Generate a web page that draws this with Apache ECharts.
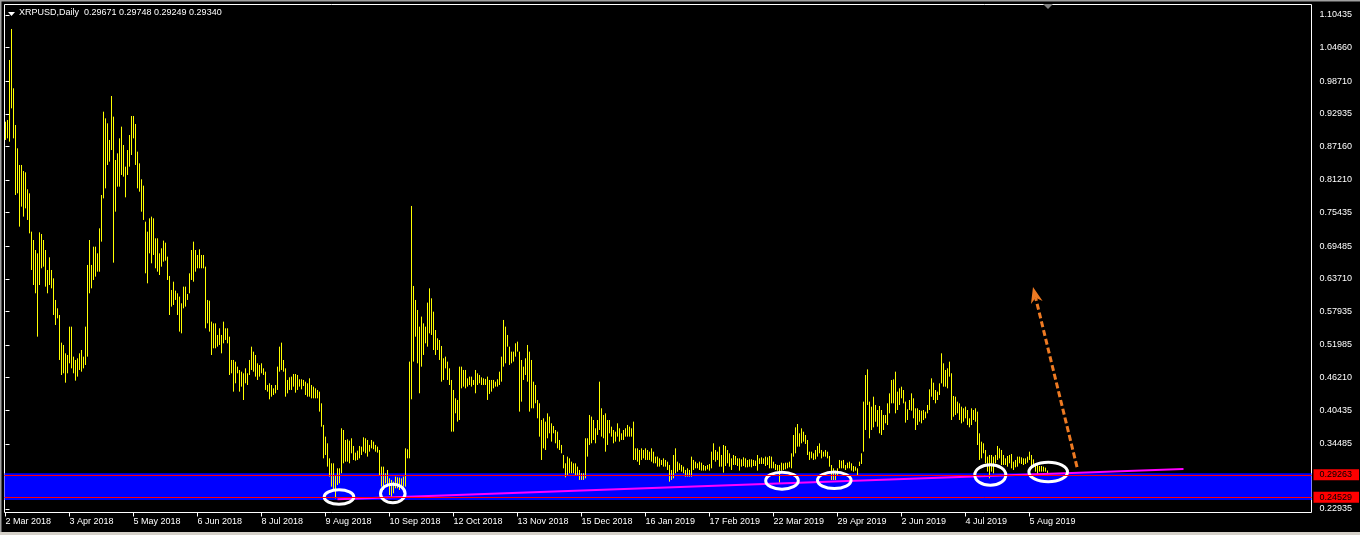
<!DOCTYPE html>
<html><head><meta charset="utf-8">
<script src="https://cdn.jsdelivr.net/npm/echarts@6/dist/echarts.min.js"></script>
<style>html,body{margin:0;padding:0;background:#000;overflow:hidden}#c{width:1360px;height:535px}</style>
</head><body><div id="c"></div>
<script>
const titleText = 'XRPUSD,Daily  0.29671 0.29748 0.29249 0.29340';
const dateTickIndex = [0,32,64,96,128,160,192,224,256,288,320,352,384,416,448,480,512];
const dateLabels = ['2 Mar 2018','3 Apr 2018','5 May 2018','6 Jun 2018','8 Jul 2018','9 Aug 2018','10 Sep 2018','12 Oct 2018','13 Nov 2018','15 Dec 2018','16 Jan 2019','17 Feb 2019','22 Mar 2019','29 Apr 2019','2 Jun 2019','4 Jul 2019','5 Aug 2019'];
const priceTicks = [1.10435,1.04660,0.98710,0.92935,0.87160,0.81210,0.75435,0.69485,0.63710,0.57935,0.51985,0.46210,0.40435,0.34485,0.28710,0.22935];

const highs = [
0.9154,0.9184,1.0247,1.0796,0.9745,0.9095,0.8682,0.8387,0.8387,0.8280,
0.8257,0.7956,0.7885,0.7206,0.7058,0.6881,0.6822,0.7194,0.7165,0.7058,
0.6881,0.6527,0.6751,0.6527,0.6379,0.5996,0.5848,0.5730,0.5240,0.5199,
0.5051,0.5021,0.5523,0.5523,0.4992,0.4933,0.4962,0.5051,0.5110,0.4992,
0.5523,0.6616,0.7058,0.6616,0.6940,0.6940,0.6822,0.7265,0.7855,0.9331,
0.9213,0.9125,0.8830,0.9609,0.9243,0.8475,0.8593,0.8859,0.9066,0.8741,
0.8357,0.8652,0.8918,0.9255,0.9255,0.9113,0.8623,0.8416,0.8133,0.8021,
0.7383,0.7206,0.7442,0.7472,0.7442,0.7088,0.7088,0.6822,0.6911,0.7047,
0.7011,0.6763,0.6421,0.6173,0.6320,0.6161,0.6114,0.6055,0.5937,0.6232,
0.6232,0.6102,0.6468,0.6881,0.7029,0.6881,0.6793,0.6893,0.6793,0.6793,
0.6586,0.5996,0.5984,0.5612,0.5582,0.5582,0.5376,0.5494,0.5376,0.5612,
0.5494,0.5494,0.5346,0.4933,0.4933,0.4903,0.4815,0.4756,0.4726,0.4697,
0.4785,0.4697,0.4933,0.5169,0.5081,0.5021,0.4874,0.4844,0.4874,0.4785,
0.4726,0.4490,0.4520,0.4490,0.4431,0.4490,0.4815,0.5169,0.5240,0.4933,
0.4785,0.4579,0.4626,0.4638,0.4685,0.4685,0.4667,0.4591,0.4591,0.4579,
0.4549,0.4520,0.4608,0.4490,0.4461,0.4431,0.4402,0.4372,0.4165,0.3782,
0.3575,0.3457,0.3191,0.3103,0.3103,0.2896,0.3014,0.3014,0.3723,0.3693,
0.3516,0.3528,0.3504,0.3546,0.3410,0.3292,0.3327,0.3410,0.3398,0.3563,
0.3546,0.3516,0.3428,0.3516,0.3487,0.3428,0.3398,0.3339,0.3044,0.3044,
0.2926,0.2985,0.2837,0.2808,0.2778,0.2867,0.2855,0.2849,0.2837,0.2867,
0.3368,0.3351,0.4904,0.7661,0.6244,0.5996,0.5819,0.5523,0.5701,0.5582,
0.5523,0.5949,0.6202,0.6025,0.5789,0.5464,0.5317,0.5287,0.5181,0.4963,
0.4992,0.4904,0.4785,0.4579,0.4402,0.4254,0.4225,0.4815,0.4815,0.4756,
0.4756,0.4608,0.4638,0.4638,0.4579,0.4756,0.4697,0.4667,0.4626,0.4608,
0.4597,0.4638,0.4579,0.4579,0.4579,0.4549,0.4591,0.4726,0.4992,0.5642,
0.5523,0.5376,0.5169,0.5081,0.5081,0.5228,0.5258,0.5081,0.4933,0.4815,
0.4963,0.5199,0.5081,0.4933,0.4549,0.4490,0.4225,0.4166,0.3870,0.3900,
0.3841,0.3988,0.3930,0.3811,0.3764,0.3693,0.3664,0.3516,0.3428,0.3250,
0.3103,0.3221,0.3191,0.3132,0.3103,0.3103,0.3044,0.2985,0.2926,0.2926,
0.3546,0.3546,0.3959,0.3930,0.3870,0.3723,0.3870,0.4549,0.4077,0.3959,
0.3988,0.3870,0.3870,0.3752,0.3693,0.3664,0.3811,0.3723,0.3634,0.3693,
0.3723,0.3782,0.3752,0.3723,0.3841,0.3368,0.3368,0.3339,0.3368,0.3339,
0.3368,0.3339,0.3309,0.3368,0.3309,0.3221,0.3221,0.3191,0.3162,0.3191,
0.3162,0.3132,0.3073,0.2985,0.3250,0.3368,0.3132,0.3103,0.3073,0.3044,
0.2985,0.3014,0.2985,0.3221,0.3162,0.3132,0.3103,0.3132,0.3114,0.3073,
0.3055,0.3073,0.3091,0.3309,0.3457,0.3339,0.3309,0.3398,0.3250,0.3427,
0.3410,0.3339,0.3280,0.3191,0.3250,0.3232,0.3191,0.3191,0.3173,0.3209,
0.3191,0.3162,0.3173,0.3173,0.3162,0.3150,0.3250,0.3191,0.3209,0.3191,
0.3221,0.3209,0.3232,0.3221,0.3132,0.3091,0.3073,0.3073,0.3114,0.3103,
0.3114,0.3114,0.3132,0.3280,0.3604,0.3740,0.3799,0.3634,0.3722,0.3663,
0.3604,0.3516,0.3309,0.3309,0.3280,0.3339,0.3410,0.3457,0.3339,0.3309,
0.3339,0.3309,0.3232,0.3073,0.3014,0.2973,0.3014,0.3162,0.3150,0.3162,
0.3073,0.3114,0.3132,0.3103,0.3055,0.3043,0.3014,0.3132,0.3280,0.4195,
0.4667,0.4767,0.4195,0.4106,0.4283,0.4136,0.4047,0.4118,0.4047,0.3959,
0.3959,0.4165,0.4342,0.4578,0.4590,0.4726,0.4372,0.4431,0.4460,0.4401,
0.4195,0.4059,0.4224,0.4342,0.4254,0.4077,0.4077,0.4047,0.4035,0.4047,
0.4018,0.4136,0.4413,0.4608,0.4531,0.4401,0.4372,0.4519,0.5051,0.4874,
0.4756,0.4785,0.4903,0.4697,0.4295,0.4283,0.4195,0.4165,0.4106,0.4077,
0.4106,0.4047,0.3900,0.4077,0.4047,0.4077,0.4018,0.3634,0.3486,0.3457,
0.3339,0.3221,0.3250,0.3250,0.3221,0.3250,0.3410,0.3368,0.3339,0.3250,
0.3191,0.3232,0.3250,0.3268,0.3132,0.3162,0.3221,0.3221,0.3209,0.3191,
0.3191,0.3221,0.3309,0.3250,0.3173,0.3103,0.3073,0.3055,0.3055,0.3043,
0.3026,0.2975];

const lows = [
0.8830,0.8859,0.8800,0.9390,0.8859,0.7855,0.7885,0.7295,0.7649,0.7472,
0.7619,0.7413,0.7176,0.6527,0.6261,0.6114,0.5346,0.6261,0.6557,0.6586,
0.6232,0.6114,0.6261,0.6202,0.5730,0.5553,0.5671,0.4933,0.4667,0.4697,
0.4531,0.4697,0.4874,0.4785,0.4697,0.4567,0.4638,0.4756,0.4726,0.4785,
0.4844,0.4992,0.6114,0.6202,0.6350,0.6409,0.6497,0.6497,0.7029,0.7796,
0.7973,0.8387,0.8446,0.8652,0.6657,0.7560,0.8003,0.8003,0.8210,0.8180,
0.7814,0.8210,0.8357,0.8564,0.8859,0.8387,0.7973,0.7914,0.7560,0.7413,
0.6468,0.6291,0.6822,0.6645,0.6793,0.6557,0.6497,0.6438,0.6586,0.6675,
0.6692,0.6350,0.5730,0.5878,0.5907,0.5996,0.5730,0.5435,0.5405,0.5848,
0.5878,0.5996,0.6114,0.6350,0.6320,0.6497,0.6557,0.6557,0.6557,0.6557,
0.5494,0.5582,0.5435,0.5021,0.5140,0.5140,0.5169,0.5199,0.5051,0.5228,
0.5287,0.5228,0.4667,0.4697,0.4372,0.4520,0.4697,0.4372,0.4461,0.4224,
0.4520,0.4490,0.4667,0.4756,0.4726,0.4638,0.4579,0.4638,0.4697,0.4667,
0.4402,0.4372,0.4236,0.4283,0.4313,0.4342,0.4402,0.4726,0.4756,0.4726,
0.4283,0.4342,0.4402,0.4402,0.4461,0.4354,0.4402,0.4461,0.4413,0.4472,
0.4313,0.4283,0.4283,0.4254,0.4254,0.4254,0.4254,0.4018,0.3752,0.3191,
0.3250,0.3044,0.2867,0.2689,0.2630,0.2483,0.2719,0.2749,0.2926,0.3103,
0.3132,0.3132,0.3103,0.3280,0.3162,0.3150,0.3162,0.3191,0.3250,0.3309,
0.3280,0.3221,0.3309,0.3368,0.3351,0.3309,0.3292,0.2896,0.2689,0.2630,
0.2748,0.2689,0.2542,0.2512,0.2571,0.2660,0.2660,0.2630,0.2660,0.2689,
0.2689,0.3191,0.3191,0.4236,0.4904,0.5346,0.4874,0.4343,0.4815,0.5022,
0.5228,0.5169,0.5405,0.5376,0.5110,0.5022,0.5110,0.4933,0.4549,0.4579,
0.4785,0.4579,0.4490,0.3664,0.3664,0.3988,0.3841,0.3870,0.4431,0.4461,
0.4431,0.4461,0.4490,0.4461,0.4490,0.4343,0.4490,0.4520,0.4490,0.4490,
0.4490,0.4225,0.4331,0.4372,0.4431,0.4461,0.4461,0.4490,0.4549,0.4815,
0.4874,0.5169,0.4845,0.4874,0.4904,0.4992,0.5081,0.4018,0.4195,0.4579,
0.4667,0.4549,0.4018,0.4077,0.4077,0.4166,0.3900,0.3575,0.3162,0.3368,
0.3339,0.3546,0.3634,0.3487,0.3634,0.3457,0.3368,0.3339,0.3280,0.3014,
0.2855,0.2896,0.2926,0.2926,0.2926,0.2896,0.2896,0.2808,0.2808,0.2808,
0.2837,0.3221,0.3428,0.3457,0.3516,0.3457,0.3605,0.3693,0.3575,0.3546,
0.3309,0.3428,0.3634,0.3575,0.3457,0.3487,0.3575,0.3487,0.3516,0.3516,
0.3575,0.3575,0.3575,0.3575,0.3162,0.3162,0.3132,0.3073,0.3162,0.3191,
0.3162,0.3162,0.3162,0.3132,0.3103,0.3103,0.3044,0.3044,0.3073,0.3044,
0.3044,0.2985,0.2778,0.2808,0.2837,0.2926,0.2955,0.2985,0.2955,0.2926,
0.2867,0.2867,0.2867,0.2867,0.2985,0.3014,0.3014,0.2985,0.2973,0.2973,
0.2973,0.2996,0.2973,0.3014,0.3162,0.3132,0.3162,0.3043,0.3043,0.2937,
0.3055,0.3103,0.3043,0.2985,0.3073,0.3073,0.3055,0.2973,0.3043,0.3055,
0.3032,0.3032,0.3043,0.3032,0.3055,0.3055,0.2973,0.3091,0.3091,0.3091,
0.3055,0.3073,0.3014,0.3014,0.3014,0.2985,0.2973,0.2760,0.2973,0.2985,
0.2996,0.3014,0.3032,0.3014,0.3221,0.3280,0.3398,0.3398,0.3457,0.3486,
0.3445,0.3250,0.3162,0.3191,0.3162,0.3173,0.3221,0.3280,0.3191,0.3221,
0.3221,0.3191,0.3043,0.2807,0.2807,0.2807,0.2896,0.3014,0.3014,0.3014,
0.2985,0.3014,0.3014,0.2973,0.2955,0.2973,0.2896,0.3055,0.3091,0.3309,
0.3693,0.4136,0.3545,0.3693,0.3740,0.3840,0.3752,0.3634,0.3604,0.3693,
0.3811,0.3781,0.3988,0.4165,0.4165,0.3988,0.4047,0.4136,0.4254,0.4165,
0.3823,0.3870,0.4047,0.4035,0.3900,0.3693,0.3781,0.3840,0.3811,0.3870,
0.3900,0.3988,0.4047,0.4283,0.4224,0.4165,0.4224,0.4313,0.4519,0.4460,
0.4460,0.4431,0.4638,0.3870,0.3929,0.3959,0.3988,0.3870,0.3811,0.3840,
0.3900,0.3781,0.3740,0.3781,0.3870,0.3840,0.3427,0.3162,0.3191,0.3280,
0.3103,0.2955,0.2837,0.2955,0.2925,0.3103,0.3162,0.3191,0.3073,0.3073,
0.3073,0.3043,0.3103,0.3014,0.2985,0.3032,0.3043,0.3103,0.3091,0.3073,
0.3091,0.3114,0.3162,0.3043,0.3032,0.2955,0.2896,0.2955,0.2955,0.2955,
0.2955,0.2925];

// horizontal levels
const zoneTop = 0.29263;
const zoneBottom = 0.24529;
const bidLevel = 0.2940;
// trend line (bar index, price)
const trendLine = [[166, 0.2465], [589, 0.3002]];
// ellipse annotations centres (bar index, price)
const ellipseCenters = [[166.75,0.2506],[193.65,0.2568],[388.25,0.2795],[414.4,0.2802],[492.4,0.2896],[521.35,0.2949]];
// arrow annotation (from bar, from price, to bar, to price)
const arrowSeg = [[535.75, 0.3037, 513.75, 0.6226]];
</script>
<script>
const ellipseRadii = [[14.8,7.2],[12.3,9.3],[16.3,8.5],[16.8,8.2],[15.5,10.2],[19.3,9.8]];
const FONT = 'Liberation Sans';
const chart = echarts.init(document.getElementById('c'), null, {renderer:'canvas'});
const barData = highs.map((h, i) => [i, h, lows[i]]);

chart.setOption({
  backgroundColor: '#000000',
  animation: false,
  title: {
    text: titleText, left: 19, top: 8, padding: 0,
    textStyle: {color:'#ffffff', fontSize:9, fontWeight:'normal', fontFamily: FONT}
  },
  grid: {left:4.5, right:48.5, top:4.5, bottom:22.5, show:true, borderColor:'#ffffff', borderWidth:1, backgroundColor:'#000000'},
  xAxis: {
    type:'value', min:-0.5, max:653,
    axisLine:{show:false}, splitLine:{show:false},
    axisTick:{show:true, customValues: dateTickIndex, length:4, lineStyle:{color:'#ffffff'}},
    axisLabel:{show:true, customValues: dateTickIndex, align:'left', margin:5,
      formatter: v => dateLabels[dateTickIndex.indexOf(v)] || '',
      color:'#ffffff', fontSize:9, fontFamily: FONT}
  },
  yAxis: {
    type:'value', position:'right', min:0.22315, max:1.12295, scale:true,
    axisLine:{show:false}, splitLine:{show:false},
    axisTick:{show:true, customValues: priceTicks, length:4, lineStyle:{color:'#ffffff'}},
    axisLabel:{show:true, customValues: priceTicks, margin:8,
      formatter: v => v.toFixed(5),
      color:'#ffffff', fontSize:9, fontFamily: FONT}
  },
  series: [
    {
      type:'custom', name:'bars', z:2, clip:true,
      data: barData,
      encode:{x:0, y:[1,2]},
      renderItem(params, api) {
        const x = api.value(0);
        const p1 = api.coord([x, api.value(1)]);
        const p2 = api.coord([x, api.value(2)]);
        return {type:'line', shape:{x1:p1[0], y1:p1[1], x2:p2[0], y2:p2[1]},
          style:{stroke:'#ffff00', lineWidth:1}};
      }
    },
    {
      type:'line', name:'trend', z:3, data: trendLine, symbol:'none', silent:true,
      lineStyle:{color:'#ff00ff', width:2},
      markArea:{silent:true, itemStyle:{color:'#0000ff'}, label:{show:false},
        data:[[{yAxis: zoneTop}, {yAxis: zoneBottom}]]},
      markLine:{silent:true, symbol:['none','none'], animation:false,
        data:[
          {yAxis: bidLevel, lineStyle:{color:'#778899', width:1, type:'solid'}, label:{show:false}},
          {yAxis: zoneTop, lineStyle:{color:'#ff0000', width:1, type:'solid'},
            label:{show:true, position:'end', distance:2, formatter: zoneTop.toFixed(5), color:'#000000', backgroundColor:'#ff0000', padding:[1,7,1,6], fontSize:9, fontFamily:FONT}},
          {yAxis: zoneBottom, lineStyle:{color:'#ff0000', width:1, type:'solid'},
            label:{show:true, position:'end', distance:2, formatter: zoneBottom.toFixed(5), color:'#000000', backgroundColor:'#ff0000', padding:[1,7,1,6], fontSize:9, fontFamily:FONT}}
        ]}
    },
    {
      type:'custom', name:'ellipses', z:4, clip:false,
      data: ellipseCenters,
      renderItem(params, api) {
        const c = api.coord([api.value(0), api.value(1)]);
        const r = ellipseRadii[params.dataIndex];
        return {type:'ellipse', shape:{cx:c[0], cy:c[1], rx:r[0], ry:r[1]},
          style:{fill:null, stroke:'#ffffff', lineWidth:3}};
      }
    },
    {
      type:'custom', name:'arrow', z:4, clip:false,
      data: arrowSeg,
      renderItem(params, api) {
        const a = api.coord([api.value(0), api.value(1)]);
        const b = api.coord([api.value(2), api.value(3)]);
        const dx = b[0]-a[0], dy = b[1]-a[1];
        const len = Math.sqrt(dx*dx+dy*dy);
        const ux = dx/len, uy = dy/len, nx = -uy, ny = ux;
        const L = 16, W = 6;
        const base = [b[0]-ux*L, b[1]-uy*L];
        const notch = [b[0]-ux*L*0.7, b[1]-uy*L*0.7];
        return {type:'group', children:[
          {type:'line', shape:{x1:a[0], y1:a[1], x2:notch[0], y2:notch[1]},
            style:{stroke:'#ee7a22', lineWidth:3, lineDash:[6,3]}},
          {type:'polygon', shape:{points:[b, [base[0]+nx*W, base[1]+ny*W], notch, [base[0]-nx*W, base[1]-ny*W]]},
            style:{fill:'#ee7a22'}}
        ]};
      }
    }
  ],
  graphic: [
    {type:'polygon', shape:{points:[[8,12],[15,12],[11.5,16]]}, style:{fill:'#ffffff'}, silent:true},
    {type:'polygon', shape:{points:[[1043,4],[1053,4],[1048,9]]}, style:{fill:'#808080'}, silent:true},
    {type:'rect', shape:{x:0, y:0, width:1360, height:1.5}, style:{fill:'#a0a0a0'}, silent:true},
    {type:'rect', shape:{x:0, y:0, width:1.5, height:535}, style:{fill:'#a0a0a0'}, silent:true},
    {type:'rect', shape:{x:0, y:532, width:1360, height:3}, style:{fill:'#d4d0c8'}, silent:true}
  ]
});
</script>
</body></html>
